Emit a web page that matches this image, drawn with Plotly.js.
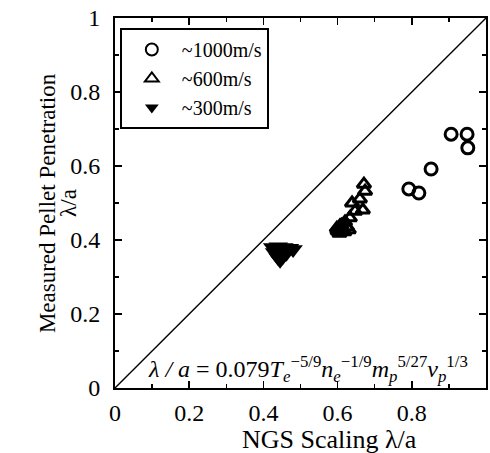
<!DOCTYPE html>
<html><head><meta charset="utf-8">
<script src="https://cdn.plot.ly/plotly-3.0.1.min.js"></script>
<style>body{margin:0;background:#fff}#chart{width:490px;height:453px}</style>
</head><body><div id="chart"></div>
<script>
// ~1000 m/s (open circles)
const x1000 = [0.792, 0.819, 0.852, 0.906, 0.949, 0.951];
const y1000 = [0.538, 0.527, 0.592, 0.686, 0.686, 0.649];
// ~600 m/s (open up-triangles)
const x600 = [0.671, 0.674, 0.660, 0.639, 0.668, 0.647, 0.633, 0.620, 0.606, 0.600, 0.612, 0.625, 0.605, 0.618, 0.630, 0.598, 0.610];
const y600 = [0.551, 0.532, 0.511, 0.500, 0.481, 0.478, 0.460, 0.449, 0.438, 0.425, 0.430, 0.436, 0.418, 0.422, 0.428, 0.432, 0.440];
// ~300 m/s (filled down-triangles)
const x300 = [0.425, 0.440, 0.455, 0.470, 0.480, 0.430, 0.448, 0.462, 0.440, 0.452, 0.445];
const y300 = [0.380, 0.382, 0.380, 0.378, 0.374, 0.366, 0.366, 0.364, 0.352, 0.355, 0.345];
const lineX = [0, 1];
const lineY = [0, 1];
const legendNames = ["~1000m/s", "~600m/s", "~300m/s"];
const xTitle = "NGS Scaling λ/a";
const yTitleLines = ["Measured Pellet Penetration", "λ/a"];

const serif = "Liberation Serif, Times New Roman, serif";
const traces = [
  {x: lineX, y: lineY, mode: "lines", line: {color: "black", width: 1.4}, showlegend: false, hoverinfo: "skip"},
  {x: x1000, y: y1000, mode: "markers", name: legendNames[0],
   marker: {symbol: "circle-open", size: 12, color: "black", line: {width: 3, color: "black"}}},
  {x: x600, y: y600, mode: "markers", name: legendNames[1],
   marker: {symbol: "triangle-up-open", size: 12, color: "black", line: {width: 3, color: "black"}}},
  {x: x300, y: y300, mode: "markers", name: legendNames[2],
   marker: {symbol: "triangle-down", size: 17, color: "black", line: {width: 0}}}
];

const axisCommon = {
  range: [0, 1], showgrid: false, zeroline: false, showline: true, linecolor: "black", linewidth: 2,
  mirror: "ticks", ticks: "inside", ticklen: 7, tickwidth: 1.5, tickcolor: "black",
  dtick: 0.2, tick0: 0, tickfont: {family: serif, size: 24, color: "black"},
  automargin: false,
  minor: {dtick: 0.1, ticks: "inside", ticklen: 4, tickwidth: 1.3, tickcolor: "black"}
};

const layout = {
  width: 490, height: 453,
  margin: {l: 115, r: 4, t: 18, b: 65},
  paper_bgcolor: "white", plot_bgcolor: "white",
  font: {family: serif, color: "black"},
  xaxis: Object.assign({}, axisCommon, {ticklabelstandoff: 2}),
  yaxis: Object.assign({}, axisCommon, {ticklabelstandoff: 8}),
  legend: {x: 0.013, y: 0.973, xanchor: "left", yanchor: "top", bgcolor: "white",
    bordercolor: "black", borderwidth: 2, font: {family: serif, size: 20, color: "black"},
    tracegroupgap: 0, itemsizing: "constant", itemwidth: 50},
  annotations: [
    {xref: "paper", yref: "paper", x: 0.957, y: 0.0, xanchor: "right", yanchor: "bottom",
     showarrow: false, font: {family: serif, size: 24, color: "black"},
     text: "<i>λ / a</i> = 0.079<i>T</i><sub><i>e</i></sub><sup>−5/9</sup><i>n</i><sub><i>e</i></sub><sup>−1/9</sup><i>m</i><sub><i>p</i></sub><sup>5/27</sup><i>ν</i><sub><i>p</i></sub><sup>1/3</sup>"},
    {xref: "paper", yref: "paper", x: 0.577, y: -0.14, xanchor: "center", yanchor: "middle",
     showarrow: false, font: {family: serif, size: 26, color: "black"}, text: xTitle},
    {xref: "paper", yref: "paper", x: -0.183, y: 0.5, xanchor: "center", yanchor: "middle", textangle: -90,
     showarrow: false, font: {family: serif, size: 23, color: "black"}, text: yTitleLines[0]},
    {xref: "paper", yref: "paper", x: -0.127, y: 0.5, xanchor: "center", yanchor: "middle", textangle: -90,
     showarrow: false, font: {family: serif, size: 23, color: "black"}, text: yTitleLines[1]}
  ]
};

Plotly.newPlot("chart", traces, layout, {staticPlot: true, displayModeBar: false});
</script>
</body></html>
